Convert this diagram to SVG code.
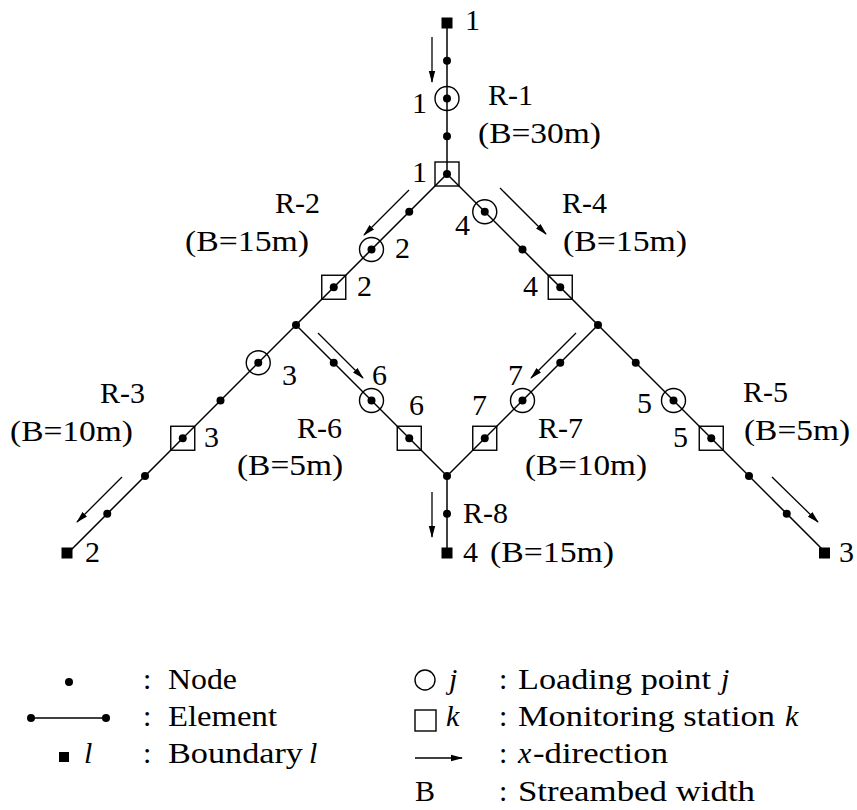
<svg xmlns="http://www.w3.org/2000/svg" width="857" height="810" viewBox="0 0 857 810" font-family="Liberation Serif, serif">
<style>
text{font-family:'Liberation Serif','Times New Roman',serif;font-size:30px;fill:#000}
.it{font-style:italic}
.ln{stroke:#000;stroke-width:1.5;fill:none}
.ar{stroke:#000;stroke-width:1.3;fill:none;marker-end:url(#ah)}
.dot{fill:#000}
.lp{fill:none;stroke:#000;stroke-width:1.4}
.ms{fill:none;stroke:#000;stroke-width:1.4}
.bd{fill:#000}
</style>
<defs>
<marker id="ah" viewBox="0 0 12 8" refX="11" refY="4" markerWidth="12" markerHeight="8" markerUnits="userSpaceOnUse" orient="auto">
<path d="M0,0.8 L12,4 L0,7.2 Z" fill="#000"/>
</marker>
</defs>
<rect width="857" height="810" fill="#fff"/>

<g id="connectors">
<line class="ln" x1="447" y1="23" x2="447" y2="174"/>
<line class="ln" x1="447" y1="174" x2="296" y2="325"/>
<line class="ln" x1="447" y1="174" x2="598" y2="325"/>
<line class="ln" x1="296" y1="325" x2="69.5" y2="551.5"/>
<line class="ln" x1="296" y1="325" x2="447" y2="476"/>
<line class="ln" x1="598" y1="325" x2="447" y2="476"/>
<line class="ln" x1="598" y1="325" x2="824.5" y2="551.5"/>
<line class="ln" x1="447" y1="476" x2="447" y2="551.5"/>
<line class="ar" x1="432" y1="37" x2="432" y2="82"/>
<line class="ar" x1="409" y1="190" x2="364" y2="235"/>
<line class="ar" x1="500" y1="188" x2="546" y2="234"/>
<line class="ar" x1="122" y1="477" x2="77" y2="522"/>
<line class="ar" x1="318" y1="333" x2="363" y2="378"/>
<line class="ar" x1="576" y1="333" x2="531" y2="378"/>
<line class="ar" x1="432" y1="492" x2="432" y2="537"/>
<line class="ar" x1="772" y1="477" x2="818" y2="522"/>
</g>

<g id="boundary-1"><rect class="bd" x="441.5" y="17.5" width="11" height="11"/><text x="465" y="30">1</text></g>
<g id="node-r1a"><circle class="dot" cx="447" cy="60.75" r="4"/></g>
<g id="loading-1"><circle class="lp" cx="447" cy="98.5" r="12"/><circle class="dot" cx="447" cy="98.5" r="4"/><text x="412" y="113">1</text></g>
<g id="node-r1b"><circle class="dot" cx="447" cy="136.25" r="4"/></g>
<g id="station-1"><rect class="ms" x="435" y="162" width="24" height="24"/><circle class="dot" cx="447" cy="174" r="4"/><text x="412" y="182">1</text></g>
<g id="label-r1"><text x="488" y="105">R-1</text><text x="478" y="143" textLength="123" lengthAdjust="spacingAndGlyphs">(B=30m)</text></g>

<g id="node-r2a"><circle class="dot" cx="409.25" cy="211.75" r="4"/></g>
<g id="loading-2"><circle class="lp" cx="371.5" cy="249.5" r="12"/><circle class="dot" cx="371.5" cy="249.5" r="4"/><text x="395" y="258">2</text></g>
<g id="station-2"><rect class="ms" x="321.75" y="275.25" width="24" height="24"/><circle class="dot" cx="333.75" cy="287.25" r="4"/><text x="357" y="296">2</text></g>
<g id="label-r2"><text x="275" y="213">R-2</text><text x="185" y="251" textLength="124" lengthAdjust="spacingAndGlyphs">(B=15m)</text></g>

<g id="loading-4"><circle class="lp" cx="484.75" cy="211.75" r="12"/><circle class="dot" cx="484.75" cy="211.75" r="4"/><text x="455" y="235">4</text></g>
<g id="node-r4a"><circle class="dot" cx="522.5" cy="249.5" r="4"/></g>
<g id="station-4"><rect class="ms" x="548.25" y="275.25" width="24" height="24"/><circle class="dot" cx="560.25" cy="287.25" r="4"/><text x="523" y="296">4</text></g>
<g id="label-r4"><text x="562" y="213">R-4</text><text x="563" y="251" textLength="124" lengthAdjust="spacingAndGlyphs">(B=15m)</text></g>

<g id="junction-2"><circle class="dot" cx="296" cy="325" r="4"/></g>
<g id="junction-3"><circle class="dot" cx="598" cy="325" r="4"/></g>

<g id="loading-3"><circle class="lp" cx="258.25" cy="362.75" r="12"/><circle class="dot" cx="258.25" cy="362.75" r="4"/><text x="282" y="385">3</text></g>
<g id="node-r3a"><circle class="dot" cx="220.5" cy="400.5" r="4"/></g>
<g id="station-3"><rect class="ms" x="170.75" y="426.25" width="24" height="24"/><circle class="dot" cx="182.75" cy="438.25" r="4"/><text x="204" y="447">3</text></g>
<g id="node-r3b"><circle class="dot" cx="145" cy="476" r="4"/></g>
<g id="node-r3c"><circle class="dot" cx="107.25" cy="513.75" r="4"/></g>
<g id="boundary-2"><rect class="bd" x="61.5" y="547.5" width="11" height="11"/><text x="85" y="562">2</text></g>
<g id="label-r3"><text x="100" y="403">R-3</text><text x="10" y="441" textLength="123" lengthAdjust="spacingAndGlyphs">(B=10m)</text></g>

<g id="node-r6a"><circle class="dot" cx="333.75" cy="362.75" r="4"/></g>
<g id="loading-6"><circle class="lp" cx="371.5" cy="400.5" r="12"/><circle class="dot" cx="371.5" cy="400.5" r="4"/><text x="372" y="385">6</text></g>
<g id="station-6"><rect class="ms" x="397.25" y="426.25" width="24" height="24"/><circle class="dot" cx="409.25" cy="438.25" r="4"/><text x="409" y="415">6</text></g>
<g id="label-r6"><text x="297" y="438">R-6</text><text x="237" y="475" textLength="106" lengthAdjust="spacingAndGlyphs">(B=5m)</text></g>

<g id="node-r7a"><circle class="dot" cx="560.25" cy="362.75" r="4"/></g>
<g id="loading-7"><circle class="lp" cx="522.5" cy="400.5" r="12"/><circle class="dot" cx="522.5" cy="400.5" r="4"/><text x="508" y="385">7</text></g>
<g id="station-7"><rect class="ms" x="472.75" y="426.25" width="24" height="24"/><circle class="dot" cx="484.75" cy="438.25" r="4"/><text x="472" y="415">7</text></g>
<g id="label-r7"><text x="538" y="438">R-7</text><text x="525" y="475" textLength="122" lengthAdjust="spacingAndGlyphs">(B=10m)</text></g>

<g id="node-r5a"><circle class="dot" cx="635.75" cy="362.75" r="4"/></g>
<g id="loading-5"><circle class="lp" cx="673.5" cy="400.5" r="12"/><circle class="dot" cx="673.5" cy="400.5" r="4"/><text x="637" y="413">5</text></g>
<g id="station-5"><rect class="ms" x="699.25" y="426.25" width="24" height="24"/><circle class="dot" cx="711.25" cy="438.25" r="4"/><text x="673" y="447">5</text></g>
<g id="node-r5b"><circle class="dot" cx="749" cy="476" r="4"/></g>
<g id="node-r5c"><circle class="dot" cx="786.75" cy="513.75" r="4"/></g>
<g id="boundary-3"><rect class="bd" x="819" y="547.5" width="11" height="11"/><text x="839" y="562">3</text></g>
<g id="label-r5"><text x="743" y="402">R-5</text><text x="744" y="440" textLength="106" lengthAdjust="spacingAndGlyphs">(B=5m)</text></g>

<g id="junction-4"><circle class="dot" cx="447" cy="476" r="4"/></g>
<g id="node-r8a"><circle class="dot" cx="447" cy="513.75" r="4"/></g>
<g id="boundary-4"><rect class="bd" x="441.5" y="547.5" width="11" height="11"/><text x="463" y="562">4</text></g>
<g id="label-r8"><text x="463" y="523">R-8</text><text x="490" y="562" textLength="124" lengthAdjust="spacingAndGlyphs">(B=15m)</text></g>

<g id="legend">
<circle class="dot" cx="69" cy="682" r="4"/>
<text x="143" y="689">:</text><text x="168" y="689" textLength="69" lengthAdjust="spacingAndGlyphs">Node</text>
<line class="ln" x1="31" y1="718" x2="106" y2="718"/>
<circle class="dot" cx="31" cy="718" r="4"/><circle class="dot" cx="106" cy="718" r="4"/>
<text x="143" y="726">:</text><text x="168" y="726" textLength="109" lengthAdjust="spacingAndGlyphs">Element</text>
<rect class="bd" x="59" y="752" width="10" height="10"/>
<text class="it" x="84" y="763">l</text>
<text x="143" y="763">:</text><text x="168" y="763" textLength="135" lengthAdjust="spacingAndGlyphs">Boundary</text><text class="it" x="309" y="763">l</text>
<circle class="lp" cx="425" cy="680" r="10"/>
<text class="it" x="449" y="689">j</text>
<text x="499" y="689">:</text><text x="518" y="689" textLength="193" lengthAdjust="spacingAndGlyphs">Loading point</text><text class="it" x="721" y="689">j</text>
<rect class="ms" x="415" y="710" width="21" height="21"/>
<text class="it" x="446" y="726">k</text>
<text x="499" y="726">:</text><text x="518" y="726" textLength="257" lengthAdjust="spacingAndGlyphs">Monitoring station</text><text class="it" x="785" y="726">k</text>
<line class="ar" x1="415" y1="758" x2="462" y2="758"/>
<text x="499" y="763">:</text><text class="it" x="518" y="763">x</text><text x="533" y="763" textLength="135" lengthAdjust="spacingAndGlyphs">-direction</text>
<text x="415" y="801">B</text>
<text x="499" y="801">:</text><text x="518" y="801" textLength="237" lengthAdjust="spacingAndGlyphs">Streambed width</text>
</g>
</svg>
